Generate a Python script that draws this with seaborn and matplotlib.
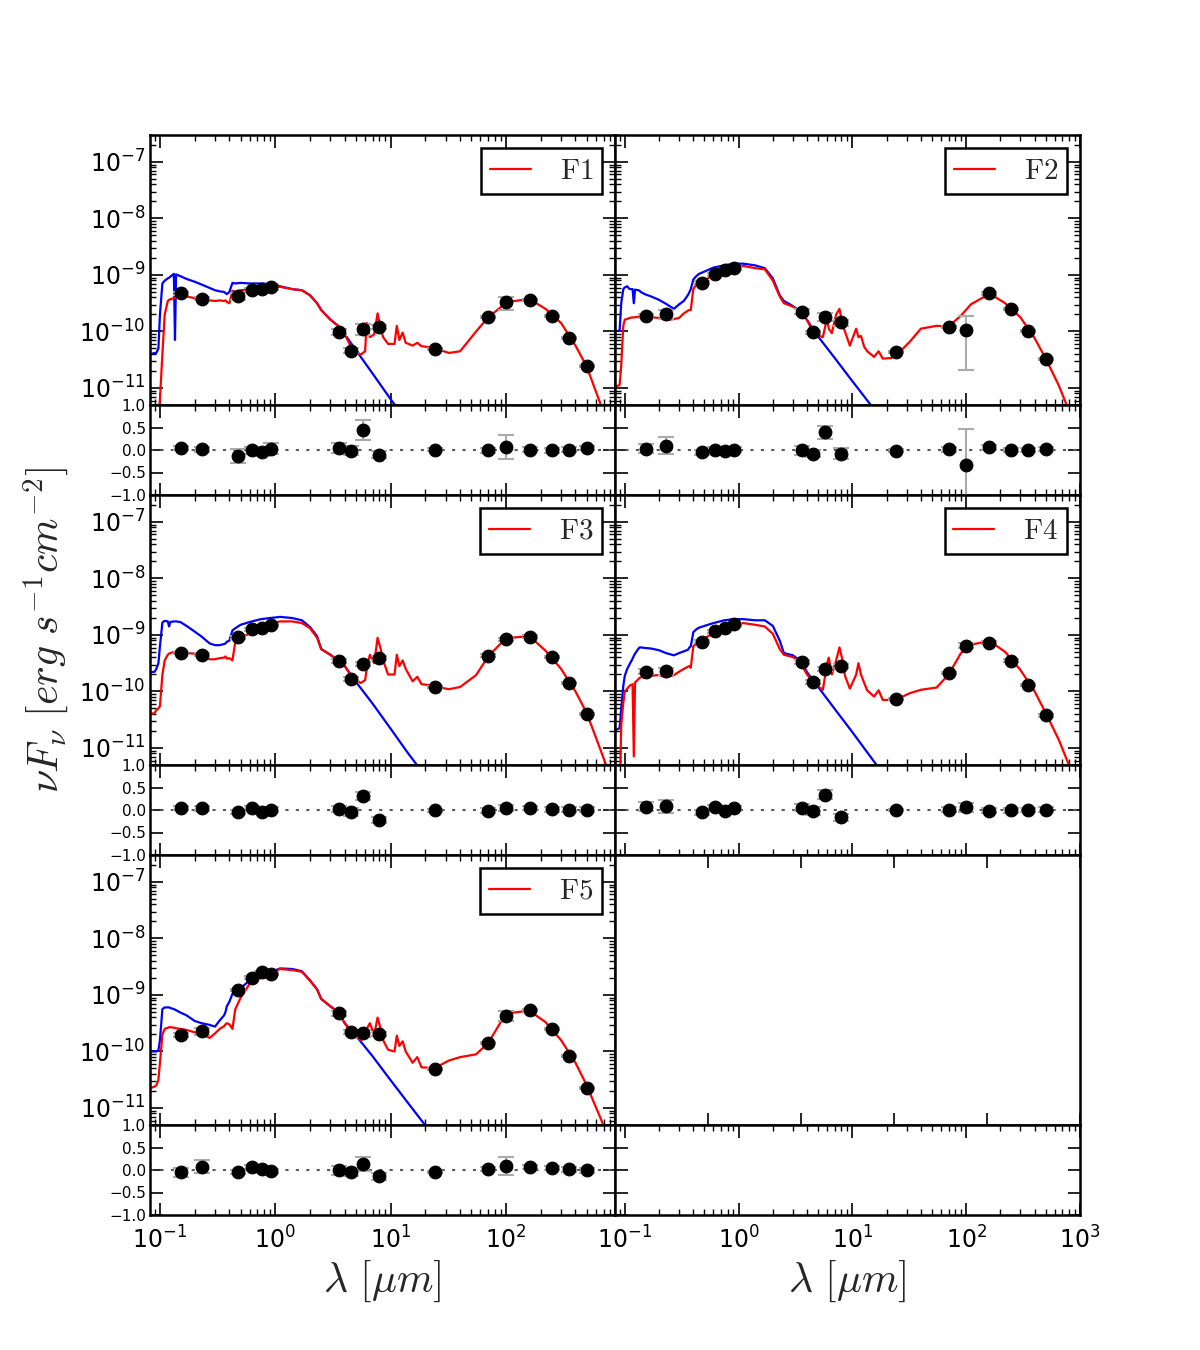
import numpy as np
import matplotlib
matplotlib.use("Agg")
import matplotlib.pyplot as plt
import seaborn as sns
from matplotlib.lines import Line2D

# photometric bands (micron): GALEX, SDSS, IRAC, MIPS, PACS, SPIRE
filter_wl = [0.153, 0.231, 0.477, 0.623, 0.763, 0.913, 3.6, 4.5, 5.8, 8.0,
             24, 70, 100, 160, 250, 350, 500]

# model wavelength grids (micron)
red_wl = [0.083, 0.09, 0.093, 0.097, 0.1, 0.105, 0.11, 0.117, 0.12, 0.123,
          0.132, 0.135, 0.138, 0.15, 0.17,
          0.2, 0.23, 0.27, 0.3, 0.33, 0.36, 0.37, 0.38, 0.40, 0.425,
          0.45, 0.5, 0.6, 0.75, 0.9, 1.1, 1.4, 1.7, 2.0, 2.3,
          2.5, 3.0, 3.5, 4.0, 4.6, 5.5, 6.0, 6.2, 6.6, 7.2,
          7.7, 8.2, 8.6, 9.5, 10.8, 11.3, 11.9, 12.7, 13.5, 15.5,
          17.0, 18.5, 22, 27, 32, 40, 55, 70, 90, 110,
          140, 170, 220, 300, 400, 500, 650, 800, 1000]
blue_wl = [0.083, 0.09, 0.093, 0.097, 0.1, 0.105, 0.11, 0.117, 0.12, 0.123,
           0.132, 0.135, 0.138, 0.15, 0.17,
           0.2, 0.23, 0.27, 0.3, 0.33, 0.36, 0.37, 0.38, 0.40, 0.425,
           0.45, 0.5, 0.6, 0.75, 0.9, 1.1, 1.4, 1.7, 2.0, 2.3,
           2.5, 3.0, 3.5, 4.0, 5, 7, 10, 14, 20, 30]

# log10 of nuFnu (erg s^-1 cm^-2)
f1_red = [-12.5, -12.0, -12.0, -11.5, -11.2, -10.4, -9.7, -9.46, -9.44, -9.43,
          -9.41, -9.40, -9.40, -9.38, -9.38,
          -9.41, -9.44, -9.45, -9.46, -9.45, -9.46, -9.45, -9.48, -9.5, -9.28,
          -9.3, -9.27, -9.25, -9.24, -9.22, -9.21, -9.25, -9.27, -9.36, -9.5,
          -9.62, -9.79, -9.9, -10.05, -10.3, -10.41, -10.35, -9.85, -10.1, -10.05,
          -9.68, -9.95, -10.1, -10.22, -10.22, -9.9, -10.15, -10.02, -10.2, -10.25,
          -10.2, -10.26, -10.28, -10.33, -10.38, -10.35, -10.0, -9.75, -9.57, -9.47,
          -9.44, -9.46, -9.6, -9.85, -10.25, -10.62, -11.25, -11.8, -12.5]
f1_blue = [-10.4, -10.38, -10.38, -10.3, -9.7, -9.15, -9.1, -9.06, -9.05, -9.03,
           -8.98, -10.15, -8.99, -9.02, -9.07,
           -9.12, -9.17, -9.23, -9.27, -9.29, -9.3, -9.32, -9.34, -9.3, -9.14,
           -9.15, -9.14, -9.15, -9.15, -9.16, -9.2, -9.25, -9.27, -9.36, -9.5,
           -9.62, -9.79, -9.9, -10.05, -10.33, -10.75, -11.2, -11.6, -12.05, -12.55]
f1_obs = [-9.324, -9.418, -9.376, -9.265, -9.253, -9.206, -10.006, -10.341, -9.953, -9.924,
          -10.306, -9.747, -9.482, -9.441, -9.729, -10.118, -10.606]
f1_res = [0.045, 0.015, -0.13, -0.01, -0.045, 0.03, 0.045, -0.015, 0.45, -0.10,
          0.01, -0.01, 0.07, 0.01, -0.01, 0.01, 0.04]
f1_err = [0.05, 0.05, 0.15, 0.08, 0.08, 0.12, 0.12, 0.1, 0.22, 0.08,
          0.03, 0.05, 0.26, 0.05, 0.05, 0.05, 0.05]

f2_red = [-10.97, -10.95, -10.6, -9.9, -9.79, -9.78, -9.76, -9.75, -9.75, -9.75,
          -9.74, -9.74, -9.74, -9.73, -9.75,
          -9.76, -9.8, -9.78, -9.76, -9.68, -9.63, -9.62, -9.62, -9.25, -9.17,
          -9.13, -9.1, -9.0, -8.92, -8.88, -8.84, -8.88, -8.9, -9.1, -9.38,
          -9.5, -9.56, -9.65, -9.8, -10.05, -10.1, -9.76, -9.95, -10.03, -9.7,
          -9.6, -9.88, -10.0, -10.25, -9.95, -10.1, -10.08, -10.27, -10.35, -10.45,
          -10.35, -10.48, -10.47, -10.33, -10.18, -9.95, -9.9, -9.91, -9.72, -9.52,
          -9.4, -9.36, -9.5, -9.75, -10.12, -10.48, -10.95, -11.4, -12.0]
f2_blue = [-9.99, -9.99, -9.5, -9.25, -9.22, -9.2, -9.25, -9.25, -9.5, -9.26,
           -9.27, -9.28, -9.3, -9.34, -9.38,
           -9.44, -9.51, -9.6, -9.52, -9.46, -9.35, -9.3, -9.25, -9.08, -9.02,
           -8.98, -8.94, -8.87, -8.83, -8.8, -8.8, -8.83, -8.88, -9.06, -9.36,
           -9.46, -9.55, -9.65, -9.8, -10.09, -10.47, -10.88, -11.26, -11.68, -12.1]
f2_obs = [-9.724, -9.694, -9.135, -8.988, -8.918, -8.882, -9.647, -10.018, -9.741, -9.841,
          -10.365, -9.918, -9.976, -9.324, -9.6, -9.988, -10.488]
f2_res = [0.03, 0.1, -0.05, 0.01, -0.03, 0.01, 0.0, -0.08, 0.39, -0.08,
          -0.015, 0.015, -0.33, 0.06, 0.0, 0.0, 0.02]
f2_err = [0.1, 0.18, 0.05, 0.05, 0.05, 0.05, 0.1, 0.07, 0.15, 0.12,
          0.03, 0.05, 0.8, 0.05, 0.05, 0.05, 0.05]

f3_red = [-10.4, -10.38, -10.33, -10.3, -10.26, -9.7, -9.45, -9.35, -9.33, -9.32,
          -9.3, -9.3, -9.3, -9.31, -9.32,
          -9.33, -9.38, -9.43, -9.43, -9.41, -9.4, -9.38, -9.42, -9.41, -9.45,
          -9.12, -9.05, -8.97, -8.86, -8.8, -8.76, -8.76, -8.79, -8.88, -9.05,
          -9.25, -9.35, -9.45, -9.55, -9.74, -9.85, -9.8, -9.6, -9.35, -9.5,
          -9.05, -9.25, -9.45, -9.7, -9.7, -9.35, -9.55, -9.45, -9.6, -9.82,
          -9.74, -9.87, -9.89, -9.93, -9.96, -9.92, -9.71, -9.38, -9.15, -9.05,
          -9.03, -9.07, -9.28, -9.6, -10.0, -10.38, -11.0, -11.5, -12.1]
f3_blue = [-9.66, -9.65, -9.6, -9.5, -9.2, -8.78, -8.75, -8.76, -8.85, -8.77,
           -8.76, -8.76, -8.76, -8.77, -8.84,
           -8.94, -9.03, -9.15, -9.18, -9.18, -9.16, -9.15, -9.12, -9.1, -8.92,
           -8.88, -8.82, -8.77, -8.72, -8.7, -8.68, -8.7, -8.74, -8.86, -9.02,
           -9.25, -9.35, -9.45, -9.55, -9.83, -10.22, -10.66, -11.08, -11.5, -12.0]
f3_obs = [-9.318, -9.347, -9.041, -8.9, -8.871, -8.824, -9.459, -9.782, -9.512, -9.406,
          -9.924, -9.365, -9.076, -9.029, -9.394, -9.853, -10.394]
f3_res = [0.045, 0.037, -0.045, 0.05, -0.045, 0.01, 0.02, -0.045, 0.31, -0.22,
          -0.01, -0.015, 0.045, 0.05, 0.015, 0.01, 0.01]
f3_err = [0.05, 0.05, 0.05, 0.05, 0.05, 0.05, 0.07, 0.08, 0.08, 0.07,
          0.03, 0.05, 0.07, 0.05, 0.05, 0.05, 0.05]

f4_red = [-12.5, -12.0, -10.6, -10.2, -10.0, -9.95, -9.9, -9.87, -11.15, -9.84,
          -9.78, -9.76, -9.75, -9.74, -9.72,
          -9.71, -9.75, -9.71, -9.65, -9.6, -9.56, -9.55, -9.58, -9.2, -9.15,
          -9.1, -9.06, -8.97, -8.88, -8.82, -8.79, -8.82, -8.85, -8.98, -9.25,
          -9.35, -9.39, -9.5, -9.7, -9.86, -9.97, -9.5, -9.4, -9.7, -9.45,
          -9.22, -9.45, -9.72, -9.95, -9.7, -9.5, -9.7, -9.85, -9.98, -10.09,
          -9.98, -10.15, -10.15, -10.1, -10.03, -9.97, -9.93, -9.7, -9.32, -9.17,
          -9.13, -9.14, -9.3, -9.62, -10.0, -10.38, -10.85, -11.3, -11.9]
f4_blue = [-10.68, -10.65, -10.3, -9.9, -9.72, -9.6, -9.52, -9.42, -9.37, -9.33,
           -9.24, -9.22, -9.22, -9.23, -9.24,
           -9.27, -9.32, -9.36, -9.32, -9.29, -9.26, -9.22, -9.2, -8.95, -8.9,
           -8.87, -8.84, -8.79, -8.74, -8.72, -8.72, -8.74, -8.74, -8.84, -9.1,
           -9.32, -9.36, -9.46, -9.66, -9.92, -10.31, -10.72, -11.12, -11.54, -12.0]
f4_obs = [-9.647, -9.641, -9.118, -8.935, -8.876, -8.812, -9.482, -9.824, -9.6, -9.541,
          -10.129, -9.676, -9.188, -9.135, -9.453, -9.888, -10.424]
f4_res = [0.075, 0.08, -0.05, 0.07, -0.015, 0.037, 0.05, -0.02, 0.34, -0.16,
          0.0, 0.01, 0.06, -0.015, -0.01, 0.0, 0.01]
f4_err = [0.1, 0.15, 0.05, 0.05, 0.05, 0.05, 0.08, 0.08, 0.1, 0.08,
          0.03, 0.05, 0.1, 0.05, 0.05, 0.05, 0.05]

f5_red = [-10.65, -10.62, -10.6, -10.5, -10.2, -9.7, -9.6, -9.58, -9.57, -9.57,
          -9.58, -9.58, -9.59, -9.6, -9.62,
          -9.66, -9.69, -9.76, -9.68, -9.6, -9.55, -9.52, -9.5, -9.52, -9.6,
          -9.25, -9.05, -8.8, -8.7, -8.62, -8.54, -8.56, -8.59, -8.75, -8.9,
          -9.07, -9.2, -9.3, -9.5, -9.68, -9.8, -9.75, -9.6, -9.5, -9.7,
          -9.4, -9.6, -9.8, -9.97, -10.0, -9.72, -9.9, -9.82, -10.0, -10.2,
          -10.1, -10.28, -10.29, -10.24, -10.16, -10.1, -10.05, -9.85, -9.48, -9.32,
          -9.29, -9.32, -9.48, -9.8, -10.2, -10.6, -11.15, -11.6, -12.2]
f5_blue = [-10.0, -10.0, -10.0, -9.98, -9.8, -9.25, -9.22, -9.22, -9.22, -9.23,
           -9.25, -9.26, -9.27, -9.31, -9.36,
           -9.46, -9.5, -9.53, -9.56, -9.45, -9.36, -9.3, -9.2, -9.12, -8.98,
           -8.92, -8.88, -8.74, -8.67, -8.6, -8.53, -8.54, -8.58, -8.74, -8.9,
           -9.07, -9.2, -9.3, -9.5, -9.72, -10.09, -10.51, -10.9, -11.31, -11.78]
f5_obs = [-9.706, -9.641, -8.912, -8.694, -8.594, -8.629, -9.318, -9.659, -9.676, -9.688,
          -10.306, -9.847, -9.365, -9.265, -9.606, -10.076, -10.647]
f5_res = [-0.05, 0.075, -0.045, 0.07, 0.02, -0.02, 0.0, -0.045, 0.13, -0.14,
          -0.045, 0.02, 0.09, 0.07, 0.045, 0.015, -0.01]
f5_err = [0.1, 0.15, 0.05, 0.05, 0.05, 0.05, 0.1, 0.08, 0.15, 0.08,
          0.03, 0.05, 0.2, 0.05, 0.05, 0.05, 0.05]

labels = ["F1", "F2", "F3", "F4", "F5"]

sns.set_style("ticks")
plt.rcParams.update({
    "font.family": ["DejaVu Sans"],
    "mathtext.fontset": "cm",
    "axes.linewidth": 1.8,
    "axes.edgecolor": "black",
    "xtick.direction": "in",
    "ytick.direction": "in",
    "xtick.top": True,
    "ytick.right": True,
    "xtick.major.size": 9,
    "ytick.major.size": 9,
    "xtick.minor.size": 4.5,
    "ytick.minor.size": 4.5,
    "xtick.major.width": 1.2,
    "ytick.major.width": 1.2,
    "xtick.minor.width": 1.0,
    "ytick.minor.width": 1.0,
    "xtick.color": "black",
    "ytick.color": "black",
})

XLIMS = [(0.082, 880), (0.082, 1001)]


def draw_sed(ax, ax_res, red, blue, obs, res, err, label, col):
    red = np.power(10.0, red)
    blue = np.power(10.0, blue)
    obs = np.power(10.0, obs)
    err = np.array(err)

    sns.lineplot(x=blue_wl, y=blue, ax=ax, color="blue", linewidth=1.6,
                 sort=False, estimator=None)
    sns.lineplot(x=red_wl, y=red, ax=ax, color="red", linewidth=1.6,
                 sort=False, estimator=None)
    ax.errorbar(filter_wl, obs, yerr=err * obs, fmt="none", ecolor="#aaaaaa",
                elinewidth=1.5, capsize=6, capthick=1.5, zorder=3)
    sns.scatterplot(x=filter_wl, y=obs, ax=ax, color="black", s=85,
                    edgecolor="black", zorder=4)
    ax.set_xscale("log")
    ax.set_yscale("log")
    ax.set_xlim(*XLIMS[col])
    ax.set_ylim(5e-12, 3e-7)

    leg = ax.legend([Line2D([], [], color="red", lw=1.6)], [r"$\mathrm{" + label + "}$"],
                    loc="upper right", fontsize=21, fancybox=False, framealpha=1,
                    edgecolor="black", handlelength=1.4, handletextpad=1.0,
                    borderpad=0.3, borderaxespad=0.45)
    leg.get_frame().set_linewidth(1.8)

    ax_res.axhline(0, color="0.35", linestyle=(0, (1.5, 3.5)), linewidth=1.5, zorder=1)
    ax_res.errorbar(filter_wl, res, yerr=err, fmt="none", ecolor="#aaaaaa",
                    elinewidth=1.5, capsize=6, capthick=1.5, zorder=3)
    sns.scatterplot(x=filter_wl, y=res, ax=ax_res, color="black", s=85,
                    edgecolor="black", zorder=4)


def style_axes(ax, ax_res, col, bottom):
    ax_res.set_xscale("log")
    ax_res.set_xlim(*XLIMS[col])
    ax_res.set_ylim(-1, 1)
    ax_res.set_yticks([-1.0, -0.5, 0.0, 0.5, 1.0])
    ax.tick_params(axis="x", labelbottom=False)
    ax.tick_params(axis="y", which="major", labelsize=17)
    ax_res.tick_params(axis="y", labelsize=11, pad=3)
    ax_res.tick_params(axis="x", which="major", labelsize=17, pad=8)
    ax_res.tick_params(axis="x", labelbottom=bottom)
    if col == 1:
        ax.tick_params(axis="y", labelleft=False)
        ax_res.tick_params(axis="y", labelleft=False)
    ax.set_xlabel("")
    ax.set_ylabel("")
    ax_res.set_xlabel("")
    ax_res.set_ylabel("")


fig = plt.figure(figsize=(12, 13.5), dpi=100)
gs = fig.add_gridspec(6, 2, height_ratios=[3, 1, 3, 1, 3, 1], hspace=0, wspace=0,
                      left=0.125, right=0.9, bottom=0.1, top=0.9)

panels = [
    (f1_red, f1_blue, f1_obs, f1_res, f1_err),
    (f2_red, f2_blue, f2_obs, f2_res, f2_err),
    (f3_red, f3_blue, f3_obs, f3_res, f3_err),
    (f4_red, f4_blue, f4_obs, f4_res, f4_err),
    (f5_red, f5_blue, f5_obs, f5_res, f5_err),
]

sed_axes = []
res_axes = []
for i in range(6):
    row, col = divmod(i, 2)
    ax = fig.add_subplot(gs[2 * row, col])
    ax_res = fig.add_subplot(gs[2 * row + 1, col])
    sed_axes.append(ax)
    res_axes.append(ax_res)
    if i < 5:
        red, blue, obs, res, err = panels[i]
        draw_sed(ax, ax_res, red, blue, obs, res, err, labels[i], col)
        style_axes(ax, ax_res, col, bottom=(row == 2))
    else:
        # empty last panel
        ax.set_yticks([])
        ax.tick_params(axis="x", labelbottom=False)
        style_axes(ax, ax_res, col, bottom=True)

sed_axes[2].set_ylabel(r"$\nu F_\nu\ [erg\ s^{-1} cm^{-2}]$", fontsize=30)
sed_axes[2].yaxis.set_label_coords(-0.17, 0.5)
for ax_res in res_axes[4:]:
    ax_res.set_xlabel(r"$\lambda\ [\mu m]$", fontsize=30, labelpad=4)

fig.savefig("out.png", dpi=100)
